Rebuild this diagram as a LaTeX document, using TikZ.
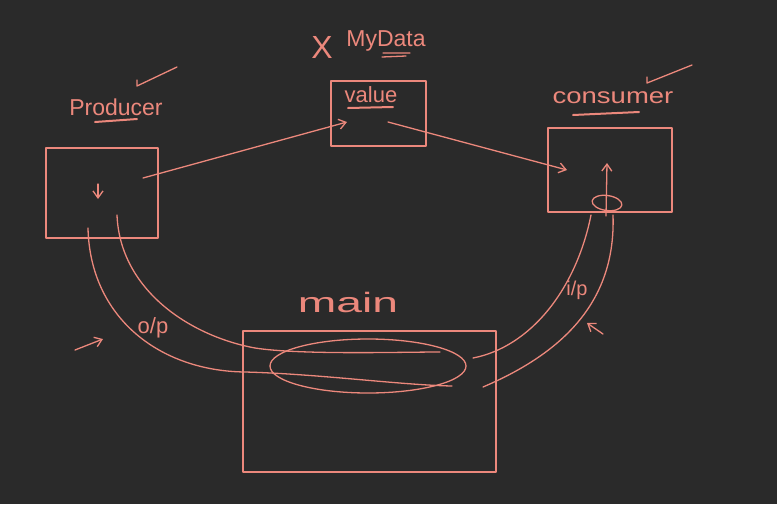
\documentclass[tikz,border=0pt]{standalone}
\usepackage{fontspec}
\setmainfont{Liberation Sans}
\usetikzlibrary{arrows.meta,shapes.geometric}
\definecolor{bg}{RGB}{42,42,42}
\definecolor{ink}{RGB}{236,136,124}
\begin{document}
\begin{tikzpicture}[x=1pt,y=-1pt,
  pen/.style={draw=ink,line width=1.3pt,line cap=round,line join=round},
  box/.style={pen,rectangle,inner sep=0pt},
  arr/.style={pen,-{Straight Barb[length=7pt,width=10pt]}},
  lbl/.style={text=ink,inner sep=0pt}]
\fill[bg] (0,0) rectangle (777,504);
\useasboundingbox (0,0) rectangle (777,504);

% boxes
\node[box,minimum width=112pt,minimum height=90pt] (prod) at (102,193) {};
\node[box,minimum width=95pt,minimum height=65pt] (val) at (378.5,113.5) {};
\node[box,minimum width=124pt,minimum height=84pt] (cons) at (610,170) {};
\node[box,minimum width=253pt,minimum height=141pt] (main) at (369.5,401.5) {};
\node[pen,ellipse,minimum width=196pt,minimum height=54pt,inner sep=0pt] (ell) at (368,366) {};

% labels
\node[lbl,font=\fontsize{23}{25}\selectfont] (tprod) at (116,107) {Producer};
\node[lbl,font=\fontsize{32}{34}\selectfont] (tx) at (322,47) {X};
\node[lbl,font=\fontsize{23}{25}\selectfont] (tmy) at (386,41) {MyData};
\node[lbl,font=\fontsize{22}{24}\selectfont] (tval) at (371,95) {value};
\node[lbl,font=\fontsize{22}{24}\selectfont] (tcons) at (613,98) {\scalebox{1.25}[1]{consumer}};
\node[lbl,font=\fontsize{28}{30}\selectfont] (tmain) at (348,302) {\scalebox{1.65}[1]{main}};
\node[lbl,font=\fontsize{22}{24}\selectfont] (top) at (153,328) {o/p};
\node[lbl,font=\fontsize{20}{22}\selectfont] (tip) at (577,290) {i/p};

% underlines and ticks
\coordinate (u1a) at (95,122); \coordinate (u1b) at (137,119);
\draw[pen,line width=2pt] (u1a) -- (u1b);
\coordinate (u2a) at (573,115); \coordinate (u2b) at (639,112);
\draw[pen,line width=2pt] (u2a) -- (u2b);
\coordinate (u3a) at (383,53); \coordinate (u3b) at (410,53);
\coordinate (u3c) at (382,57); \coordinate (u3d) at (406,56);
\draw[pen] (u3a) -- (u3b) (u3c) -- (u3d);
\coordinate (u4a) at (348,108); \coordinate (u4b) at (393,107);
\draw[pen,line width=2pt] (u4a) -- (u4b);
\coordinate (k1a) at (177,67); \coordinate (k1b) at (137,86); \coordinate (k1c) at (137,80);
\draw[pen] (k1a) -- (k1b) -- (k1c);
\coordinate (k2a) at (692,65); \coordinate (k2b) at (647,83); \coordinate (k2c) at (647,77);
\draw[pen] (k2a) -- (k2b) -- (k2c);

% arrows between boxes
\coordinate (p1) at (143,178); \coordinate (v1) at (347,122);
\draw[arr] (p1) -- (v1);
\coordinate (v2) at (388,122); \coordinate (c1) at (567,170);
\draw[arr] (v2) -- (c1);

% inner marks
\coordinate (pd1) at (98,184); \coordinate (pd2) at (98,199);
\draw[arr] (pd1) -- (pd2);
\coordinate (cu1) at (606,216); \coordinate (cu2) at (607,163);
\draw[arr] (cu1) -- (cu2);
\draw[pen,rotate around={-8:(607,203)}] (607,203) ellipse (15 and 7.5);

% left band (o/p)
\coordinate (lo0) at (88,228); \coordinate (lo1) at (245,372); \coordinate (lo2) at (452,386);
\draw[pen] (lo0) .. controls (90,318) and (160,371) .. (lo1) .. controls (320,374) and (400,385) .. (lo2);
\coordinate (li0) at (117,215); \coordinate (li1) at (255,348); \coordinate (li2) at (440,352);
\draw[pen] (li0) .. controls (120,290) and (190,336) .. (li1) .. controls (300,355) and (400,352) .. (li2);

% right band (i/p)
\coordinate (ri0) at (591,215); \coordinate (ri1) at (473,358);
\draw[pen] (ri0) .. controls (576,290) and (530,347) .. (ri1);
\coordinate (ro0) at (613,215); \coordinate (ro1) at (483,387);
\draw[pen] (ro0) .. controls (616,300) and (565,352) .. (ro1);

% small side arrows
\coordinate (sa1) at (75,350); \coordinate (sa2) at (103,339);
\draw[arr] (sa1) -- (sa2);
\coordinate (sb1) at (603,334); \coordinate (sb2) at (587,323);
\draw[arr] (sb1) -- (sb2);
\end{tikzpicture}
\end{document}
